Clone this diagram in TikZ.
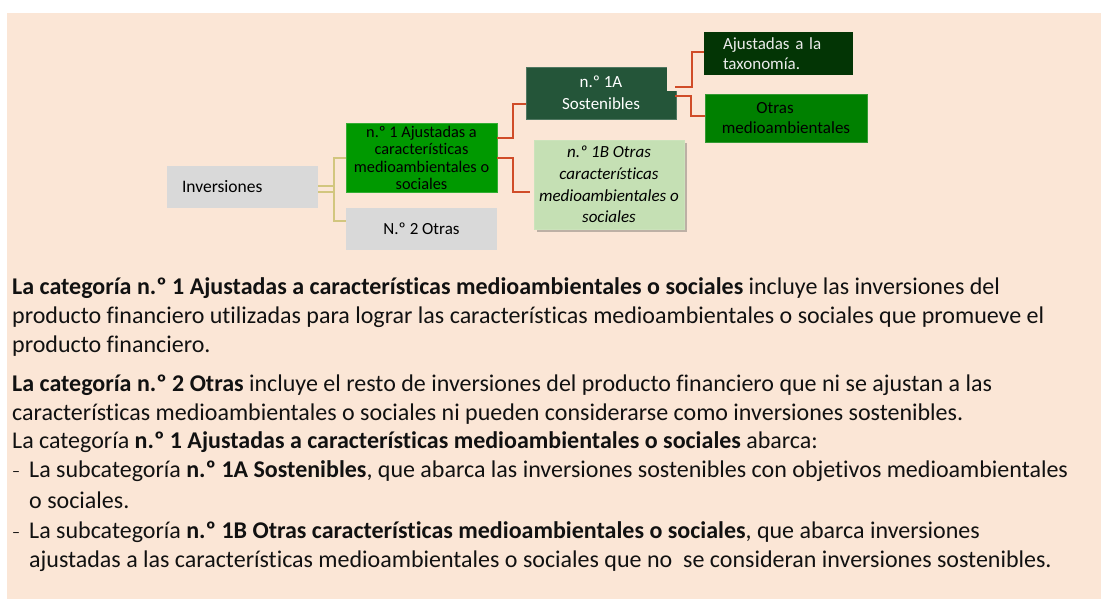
\documentclass[tikz,border=0pt]{standalone}
\usepackage{fontspec}
\setmainfont{Carlito}[Ligatures=NoCommon]
\usetikzlibrary{shadows}
\definecolor{bg}{HTML}{FBE6D6}
\definecolor{gry}{HTML}{D9D9D9}
\definecolor{grnA}{HTML}{009900}
\definecolor{grnB}{HTML}{245539}
\definecolor{grnC}{HTML}{033505}
\definecolor{grnD}{HTML}{008000}
\definecolor{grnE}{HTML}{C5E0B4}
\definecolor{redl}{HTML}{D04C28}
\definecolor{olv}{HTML}{D2C67E}
\definecolor{txt}{HTML}{111111}
\begin{document}
\begin{tikzpicture}[x=1pt,y=-1pt,
  box/.style={rectangle, inner sep=0pt, align=center, text=black},
  redc/.style={draw=redl, line width=2pt},
  olvc/.style={draw=olv, line width=1.6pt},
  txtl/.style={anchor=base west, inner sep=0pt, text=txt, font=\fontsize{24}{29}\selectfont}
]
\useasboundingbox (0,0) rectangle (1101,601);
\fill[white] (0,0) rectangle (1101,601);
\fill[bg] (7,13) rectangle (1101,599);

% boxes
\node[box, fill=gry, minimum width=151pt, minimum height=42pt, text width=121pt, align=left,
  font=\fontsize{17.5}{20}\selectfont] (inv) at (242.5,187) {Inversiones};
\node[box, fill=grnA, draw=grnA!80!white, line width=0.6pt, minimum width=151pt, minimum height=69pt,
  font=\fontsize{16.3}{17.3}\selectfont] (n1) at (421.5,158) {n.º 1 Ajustadas a\\características\\medioambientales o\\sociales};
\node[box, fill=gry, minimum width=151pt, minimum height=42pt,
  font=\fontsize{17}{20}\selectfont] (n2) at (421.5,229) {N.º 2 Otras};
\node[box, fill=grnB, draw=grnB!80!white, line width=0.6pt, minimum width=150pt, minimum height=52pt, text=white,
  font=\fontsize{17}{22.3}\selectfont] (a1) at (601,93) {n.º 1A\\Sostenibles};
\fill[bg] (667,66.5) rectangle (676.5,91);
\node[box, fill=grnC, minimum width=149pt, minimum height=43pt, text width=111pt, align=left, text=white!92!black,
  font=\fontsize{17}{19.4}\selectfont] (aj) at (778.5,53.5) {Ajustadas a la\\taxonomía.};
\node[box, fill=grnD, draw=grnD!80!white, line width=0.6pt, minimum width=162pt, minimum height=48pt,
  font=\fontsize{17}{20}\selectfont] (ot) at (786,118) {Otras\hspace*{22pt}\\medioambientales};
\node[box, fill=grnE, draw=grnE!90!white, line width=0.6pt, minimum width=150pt, minimum height=89pt,
  drop shadow={shadow xshift=2.5pt, shadow yshift=-3pt, opacity=0.35, fill=black!70},
  font=\fontsize{17}{21.7}\selectfont\itshape] (b1) at (609,184.5) {n.º 1B Otras\\características\\medioambientales o\\sociales};

% olive connectors
\coordinate (bus) at (334,0);
\draw[olvc] ([yshift=1pt]inv.east) -- ([yshift=1pt]inv.east -| bus);
\draw[olvc] ([yshift=-5pt]inv.east) -- ([yshift=-5pt]inv.east -| bus);
\draw[olvc] (n1.west) -- (n1.west -| bus) -- ([yshift=8pt]n2.west -| bus) -- ([yshift=8pt]n2.west);

% red connectors
\draw[redc] ([yshift=19.5pt]n1.east) -- ++(16,0) |- ([yshift=-11pt]a1.west);
\draw[redc] (n1.east) -- ++(16,0) |- ([xshift=-4pt,yshift=-7.5pt]b1.west);
\draw[redc] ([xshift=-1pt,yshift=6pt]a1.east) -- ++(17,0) |- ([yshift=1.5pt]aj.west);
\draw[redc] ([xshift=-1pt,yshift=-3pt]a1.east) -- ++(16,0) |- ([yshift=2pt]ot.west);

% text
\newcommand{\dsh}{\makebox[17pt][l]{\raisebox{1pt}{\fontsize{16}{16}\selectfont–}}}
\node[txtl] (t1) at (12,295) {\textbf{La categoría n.º 1 Ajustadas a características medioambientales o sociales} incluye las inversiones del};
\node[txtl] (t2) at (12,324) {producto financiero utilizadas para lograr las características medioambientales o sociales que promueve el};
\node[txtl] (t3) at (12,353) {producto financiero.};
\node[txtl] (t4) at (12,392) {\textbf{La categoría n.º 2 Otras} incluye el resto de inversiones del producto financiero que ni se ajustan a las};
\node[txtl] (t5) at (12,421) {características medioambientales o sociales ni pueden considerarse como inversiones sostenibles.};
\node[txtl] (t6) at (12,449) {La categoría \textbf{n.º 1 Ajustadas a características medioambientales o sociales} abarca:};
\node[txtl] (t7) at (12,478) {\dsh La subcategoría \textbf{n.º 1A Sostenibles}, que abarca las inversiones sostenibles con objetivos medioambientales};
\node[txtl] (t8) at (29,508) {o sociales.};
\node[txtl] (t9) at (12,538) {\dsh La subcategoría \textbf{n.º 1B Otras características medioambientales o sociales}, que abarca inversiones};
\node[txtl] (t10) at (29,567) {ajustadas a las características medioambientales o sociales que no\ \ se consideran inversiones sostenibles.};
\end{tikzpicture}
\end{document}
